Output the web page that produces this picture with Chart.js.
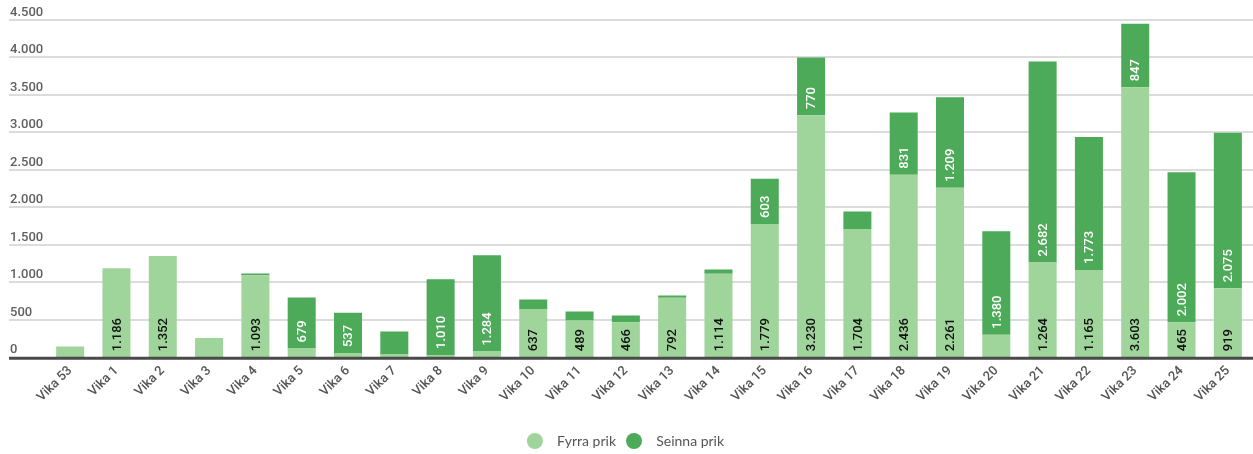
<!DOCTYPE html>
<html>
<head>
<meta charset="utf-8">
<script src="https://cdn.jsdelivr.net/npm/chart.js@4"></script>
<style>
  html, body { margin: 0; padding: 0; background: #ffffff; }
  #wrap { width: 1253px; height: 454px; position: relative; }
</style>
</head>
<body>
<div id="wrap"><canvas id="c"></canvas></div>
<script>
const categories = ["Vika 53","Vika 1","Vika 2","Vika 3","Vika 4","Vika 5","Vika 6","Vika 7","Vika 8","Vika 9","Vika 10","Vika 11","Vika 12","Vika 13","Vika 14","Vika 15","Vika 16","Vika 17","Vika 18","Vika 19","Vika 20","Vika 21","Vika 22","Vika 23","Vika 24","Vika 25"];
const fyrraPrik = [143, 1186, 1352, 258, 1093, 117, 55, 35, 30, 75, 637, 489, 466, 792, 1114, 1779, 3230, 1704, 2436, 2261, 300, 1264, 1165, 3603, 465, 919];
const seinnaPrik = [0, 0, 0, 0, 23, 679, 537, 308, 1010, 1284, 132, 120, 90, 30, 55, 603, 770, 239, 831, 1209, 1380, 2682, 1773, 847, 2002, 2075];
const seriesNames = ["Fyrra prik", "Seinna prik"];
const yTicks = [0, 500, 1000, 1500, 2000, 2500, 3000, 3500, 4000, 4500];

function fmt(v) {
  return String(Math.round(v)).replace(/\B(?=(\d{3})+(?!\d))/g, ".");
}

const FONT = "Roboto, 'Noto Sans', sans-serif";

const decorPlugin = {
  id: "decor",
  beforeDatasetsDraw(chart) {
    const ctx = chart.ctx;
    const y = chart.scales.y;
    ctx.save();
    ctx.strokeStyle = "#dcdcdc";
    ctx.lineWidth = 2;
    ctx.fillStyle = "#5f5f5f";
    ctx.font = "500 13px " + FONT;
    ctx.textAlign = "left";
    ctx.textBaseline = "alphabetic";
    yTicks.forEach(v => {
      const py = Math.round(y.getPixelForValue(v));
      if (v !== 0) {
        ctx.beginPath();
        ctx.moveTo(9, py);
        ctx.lineTo(chart.width, py);
        ctx.stroke();
      }
      ctx.fillText(fmt(v), 10, py - 4);
    });
    ctx.restore();
  },
  afterDatasetsDraw(chart) {
    const ctx = chart.ctx;
    const y = chart.scales.y;
    ctx.save();
    ctx.font = "500 13px " + FONT;
    ctx.textBaseline = "middle";
    ctx.textAlign = "left";
    chart.data.datasets.forEach((ds, di) => {
      const meta = chart.getDatasetMeta(di);
      meta.data.forEach((bar, i) => {
        const v = ds.data[i];
        if (!v) return;
        const txt = fmt(v);
        const h = Math.abs(bar.base - bar.y);
        const tw = ctx.measureText(txt).width;
        if (h < tw + 10) return;
        ctx.save();
        ctx.translate(bar.x, bar.base - 6);
        ctx.rotate(-Math.PI / 2);
        ctx.fillStyle = di === 0 ? "#111111" : "#ffffff";
        ctx.fillText(txt, 0, 1);
        ctx.restore();
      });
    });
    const py0 = y.getPixelForValue(0);
    ctx.strokeStyle = "#4a4a4a";
    ctx.lineWidth = 3;
    ctx.beginPath();
    ctx.moveTo(9, py0 + 1);
    ctx.lineTo(chart.width, py0 + 1);
    ctx.stroke();
    ctx.restore();
  }
};

new Chart(document.getElementById("c"), {
  type: "bar",
  data: {
    labels: categories,
    datasets: [
      { label: seriesNames[0], data: fyrraPrik, backgroundColor: "#9fd49b", stack: "s", categoryPercentage: 1, barPercentage: 0.605 },
      { label: seriesNames[1], data: seinnaPrik, backgroundColor: "#4caa58", stack: "s", categoryPercentage: 1, barPercentage: 0.605 }
    ]
  },
  options: {
    responsive: true,
    maintainAspectRatio: false,
    animation: false,
    devicePixelRatio: 1,
    layout: { padding: { left: 0, right: 2, top: 20, bottom: -4 } },
    plugins: {
      tooltip: { enabled: false },
      legend: {
        position: "bottom",
        labels: {
          usePointStyle: true,
          pointStyle: "circle",
          pointStyleWidth: 16,
          boxHeight: 11.3,
          color: "#555555",
          font: { family: "Lato, 'Noto Sans', sans-serif", size: 14 },
          padding: 10,
          generateLabels(chart) {
            const items = Chart.defaults.plugins.legend.labels.generateLabels(chart);
            items.forEach(it => { it.text = "  " + it.text; });
            return items;
          }
        }
      }
    },
    scales: {
      x: {
        stacked: true,
        offset: true,
        grid: { display: false, drawTicks: false },
        border: { display: false },
        afterFit(scale) { scale.height += 13; },
        ticks: {
          autoSkip: false,
          maxRotation: 45,
          minRotation: 45,
          color: "#555555",
          font: { family: FONT, size: 13, weight: "500" },
          padding: 6
        }
      },
      y: {
        stacked: true,
        display: true,
        min: 0,
        max: 4500,
        grid: { display: false, drawTicks: false },
        border: { display: false },
        ticks: { display: false, stepSize: 500 },
        afterFit(scale) { scale.width = 47; }
      }
    }
  },
  plugins: [decorPlugin]
});
</script>
</body>
</html>
